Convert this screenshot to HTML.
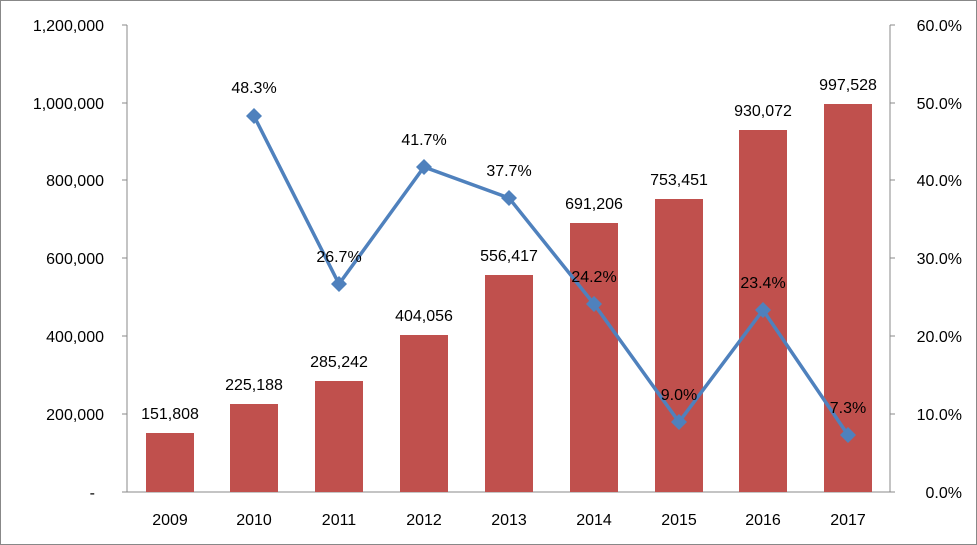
<!DOCTYPE html>
<html><head><meta charset="utf-8"><style>
body{margin:0;background:#fff}
svg{display:block;font-family:"Liberation Sans",sans-serif;font-size:16px}
</style></head><body>
<svg width="977" height="545" viewBox="0 0 977 545">
<rect x="0.5" y="0.5" width="976" height="544" fill="#fff" stroke="#888"/>
<line x1="127" y1="25" x2="127" y2="492" stroke="#888"/>
<line x1="890" y1="25" x2="890" y2="492" stroke="#888"/>
<line x1="127" y1="492" x2="890" y2="492" stroke="#888"/>
<g stroke="#888">
<line x1="122" y1="25" x2="127" y2="25"/><line x1="122" y1="103" x2="127" y2="103"/><line x1="122" y1="180" x2="127" y2="180"/><line x1="122" y1="258" x2="127" y2="258"/><line x1="122" y1="336" x2="127" y2="336"/><line x1="122" y1="414" x2="127" y2="414"/><line x1="122" y1="492" x2="127" y2="492"/>
<line x1="890" y1="25" x2="895" y2="25"/><line x1="890" y1="103" x2="895" y2="103"/><line x1="890" y1="180" x2="895" y2="180"/><line x1="890" y1="258" x2="895" y2="258"/><line x1="890" y1="336" x2="895" y2="336"/><line x1="890" y1="414" x2="895" y2="414"/><line x1="890" y1="492" x2="895" y2="492"/>
</g>
<g text-anchor="end">
<text x="104" y="31">1,200,000</text><text x="104" y="109">1,000,000</text><text x="104" y="186">800,000</text><text x="104" y="264">600,000</text><text x="104" y="342">400,000</text><text x="104" y="420">200,000</text><text x="95" y="498">-</text>
</g>
<g text-anchor="end">
<text x="962" y="31">60.0%</text><text x="962" y="109">50.0%</text><text x="962" y="186">40.0%</text><text x="962" y="264">30.0%</text><text x="962" y="342">20.0%</text><text x="962" y="420">10.0%</text><text x="962" y="498">0.0%</text>
</g>
<g fill="#C0504D">
<rect x="146" y="433" width="48" height="59"/>
<rect x="230" y="404" width="48" height="88"/>
<rect x="315" y="381" width="48" height="111"/>
<rect x="400" y="335" width="48" height="157"/>
<rect x="485" y="275" width="48" height="217"/>
<rect x="570" y="223" width="48" height="269"/>
<rect x="655" y="199" width="48" height="293"/>
<rect x="739" y="130" width="48" height="362"/>
<rect x="824" y="104" width="48" height="388"/>
</g>
<g text-anchor="middle">
<text x="170" y="419">151,808</text><text x="254" y="390">225,188</text><text x="339" y="367">285,242</text><text x="424" y="321">404,056</text><text x="509" y="261">556,417</text><text x="594" y="209">691,206</text><text x="679" y="185">753,451</text><text x="763" y="116">930,072</text><text x="848" y="90">997,528</text>
</g>
<g text-anchor="middle">
<text x="170" y="525">2009</text><text x="254" y="525">2010</text><text x="339" y="525">2011</text><text x="424" y="525">2012</text><text x="509" y="525">2013</text><text x="594" y="525">2014</text><text x="679" y="525">2015</text><text x="763" y="525">2016</text><text x="848" y="525">2017</text>
</g>
<polyline points="254,116 339,284 424,167 509,198 594,304 679,422 763,310 848,435" fill="none" stroke="#4F81BD" stroke-width="3.5"/>
<g fill="#4F81BD">
<path d="M254,108l8,8l-8,8l-8,-8z"/><path d="M339,276l8,8l-8,8l-8,-8z"/><path d="M424,159l8,8l-8,8l-8,-8z"/><path d="M509,190l8,8l-8,8l-8,-8z"/><path d="M594,296l8,8l-8,8l-8,-8z"/><path d="M679,414l8,8l-8,8l-8,-8z"/><path d="M763,302l8,8l-8,8l-8,-8z"/><path d="M848,427l8,8l-8,8l-8,-8z"/>
</g>
<g text-anchor="middle">
<text x="254" y="93">48.3%</text><text x="339" y="262">26.7%</text><text x="424" y="145">41.7%</text><text x="509" y="176">37.7%</text><text x="594" y="282">24.2%</text><text x="679" y="400">9.0%</text><text x="763" y="288">23.4%</text><text x="848" y="413">7.3%</text>
</g>
</svg>
</body></html>
